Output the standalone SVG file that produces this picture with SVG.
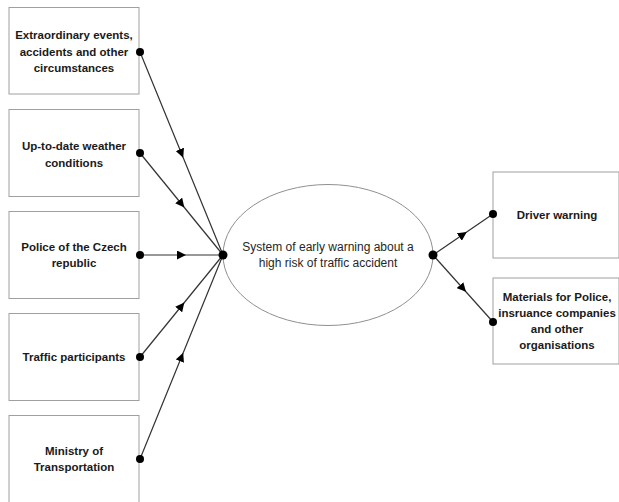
<svg xmlns="http://www.w3.org/2000/svg" width="619" height="502" viewBox="0 0 619 502">
<style>
.box{fill:#fff;stroke:#a0a0a0;stroke-width:1}
.lbl{font-family:"Liberation Sans",Arial,sans-serif;font-weight:bold;font-size:11.5px;fill:#1a1a1a;text-anchor:middle}
.ctr{font-family:"Liberation Sans",Arial,sans-serif;font-size:12px;fill:#262626;text-anchor:middle}
.con{fill:none;stroke:#333;stroke-width:1.2;marker-mid:url(#arr)}
.dot{fill:#000}
</style>
<defs>
<marker id="arr" viewBox="0 0 10 10" refX="5" refY="5" markerWidth="9" markerHeight="9" markerUnits="userSpaceOnUse" orient="auto">
<path d="M0,0 L10,5 L0,10 z" fill="#000"/>
</marker>
</defs>
<rect width="619" height="502" fill="#fff"/>
<g id="n1"><rect class="box" x="9" y="7.5" width="130" height="86.5"/>
<text class="lbl" x="74" y="39">Extraordinary events,</text>
<text class="lbl" x="74" y="56">accidents and other</text>
<text class="lbl" x="74" y="72">circumstances</text></g>
<g id="n2"><rect class="box" x="9" y="109.5" width="130" height="87"/>
<text class="lbl" x="74" y="150">Up-to-date weather</text>
<text class="lbl" x="74" y="167">conditions</text></g>
<g id="n3"><rect class="box" x="9" y="211.5" width="130" height="87"/>
<text class="lbl" x="74" y="251">Police of the Czech</text>
<text class="lbl" x="74" y="267">republic</text></g>
<g id="n4"><rect class="box" x="9" y="313.5" width="130" height="87"/>
<text class="lbl" x="74" y="361">Traffic participants</text></g>
<g id="n5"><rect class="box" x="9" y="415.5" width="130" height="92"/>
<text class="lbl" x="74" y="455">Ministry of</text>
<text class="lbl" x="74" y="471">Transportation</text></g>
<g id="center"><ellipse cx="328" cy="255" rx="105" ry="70.5" fill="#fff" stroke="#909090" stroke-width="1"/>
<text class="ctr" x="328" y="251">System of early warning about a</text>
<text class="ctr" x="328" y="267">high risk of traffic accident</text></g>
<g id="r1"><rect class="box" x="493" y="172" width="126" height="86"/>
<text class="lbl" x="557" y="219">Driver warning</text></g>
<g id="r2"><rect class="box" x="493" y="278" width="126" height="86"/>
<text class="lbl" x="557" y="301">Materials for Police,</text>
<text class="lbl" x="557" y="317">insruance companies</text>
<text class="lbl" x="557" y="333">and other</text>
<text class="lbl" x="557" y="349">organisations</text></g>
<g id="connectors">
<path class="con" d="M140,52 L181.5,153.5 L223,255"/>
<path class="con" d="M140,153 L181.5,204 L223,255"/>
<path class="con" d="M140,255 L181.5,255 L223,255"/>
<path class="con" d="M140,357 L181.5,306 L223,255"/>
<path class="con" d="M140,459 L181.5,357 L223,255"/>
<path class="con" d="M433,255 L463,234.5 L493,214"/>
<path class="con" d="M433,255 L463,288.5 L493,322"/>
<circle class="dot" cx="140" cy="52" r="4"/>
<circle class="dot" cx="140" cy="153" r="4"/>
<circle class="dot" cx="140" cy="255" r="4"/>
<circle class="dot" cx="140" cy="357" r="4"/>
<circle class="dot" cx="140" cy="459" r="4"/>
<circle class="dot" cx="223" cy="255" r="4.5"/>
<circle class="dot" cx="433" cy="255" r="4.5"/>
<circle class="dot" cx="493" cy="214" r="4"/>
<circle class="dot" cx="493" cy="322" r="4"/>
</g>
</svg>
